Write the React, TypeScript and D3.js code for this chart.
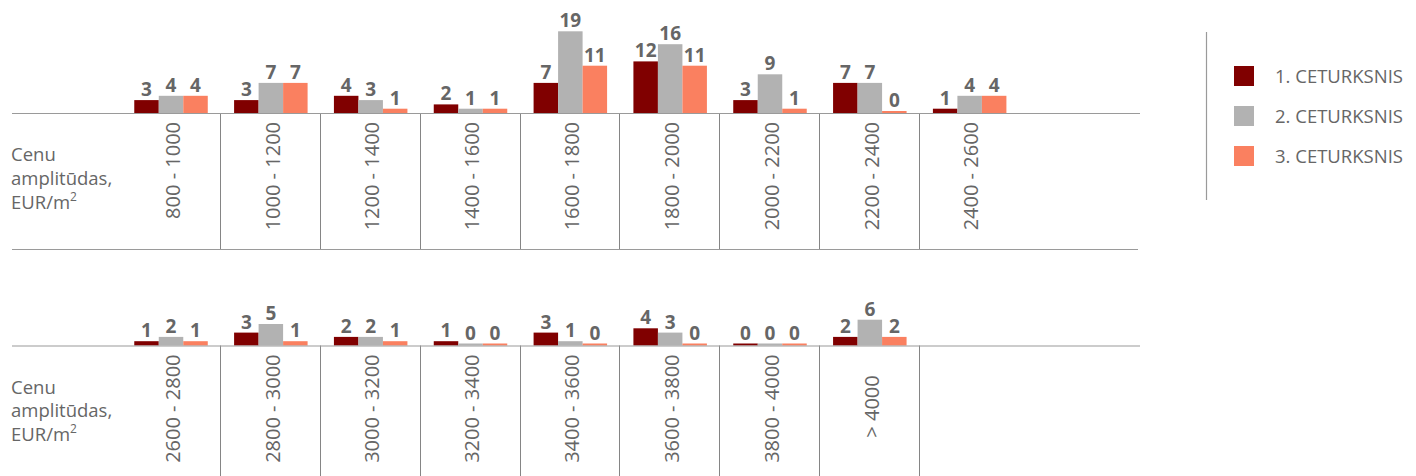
import React from "react";
import * as d3 from "d3";

// Price ranges (EUR/m²), split into two rows of the table
const rangesTop = [
  "800 - 1000", "1000 - 1200", "1200 - 1400", "1400 - 1600", "1600 - 1800",
  "1800 - 2000", "2000 - 2200", "2200 - 2400", "2400 - 2600",
];
const rangesBottom = [
  "2600 - 2800", "2800 - 3000", "3000 - 3200", "3200 - 3400", "3400 - 3600",
  "3600 - 3800", "3800 - 4000", "> 4000\u00a0\u00a0\u00a0\u00a0",
];

// Number of deals per quarter
const q1Top = [3, 3, 4, 2, 7, 12, 3, 7, 1];
const q2Top = [4, 7, 3, 1, 19, 16, 9, 7, 4];
const q3Top = [4, 7, 1, 1, 11, 11, 1, 0, 4];
const q1Bottom = [1, 3, 2, 1, 3, 4, 0, 2];
const q2Bottom = [2, 5, 2, 0, 1, 3, 0, 6];
const q3Bottom = [1, 1, 1, 0, 0, 0, 0, 2];

const seriesNames = ["1. CETURKSNIS", "2. CETURKSNIS", "3. CETURKSNIS"];
const seriesColors = ["#800000", "#b2b2b2", "#fa8060"];

const axisTitle = ["Cenu", "amplitūdas,", "EUR/m"];

const FONT = "'Open Sans', 'Noto Sans', sans-serif";
const TEXT = "#666666";
const LINE = "#9a9a9a";

const SLOTS = 9;
const x = d3
  .scaleBand<number>()
  .domain(d3.range(SLOTS))
  .range([120.3, 120.3 + 99.83 * SLOTS])
  .padding(0);
const inner = d3.scaleBand<number>().domain([0, 1, 2]).range([0, 73.5]).padding(0);
const h = d3.scaleLinear().domain([0, 20]).range([0, 86]);

type PanelProps = {
  baseline: number;
  tableBottom: number | null;
  sepBottom: number;
  ranges: string[];
  series: number[][];
};

function Panel({ baseline, tableBottom, sepBottom, ranges, series }: PanelProps) {
  const step = x.step();
  const seps = d3.range(SLOTS - 1).filter((i) => i < ranges.length);
  return (
    <g>
      {ranges.map((label, i) => {
        const cx = (x(i) as number) + step / 2;
        const gx = cx - inner.range()[1] / 2 + 0.8;
        return (
          <g key={label}>
            {series.map((vals, s) => {
              const v = vals[i];
              const bh = Math.max(2, h(v));
              const bx = gx + (inner(s) as number);
              const bw = inner.bandwidth();
              return (
                <g key={s}>
                  <rect x={bx} y={baseline - bh} width={bw} height={bh} fill={seriesColors[s]} />
                  <text
                    x={bx + bw / 2}
                    y={baseline - bh - 4}
                    textAnchor="middle"
                    fontFamily={FONT}
                    fontWeight={700}
                    fontSize={19}
                    fill={TEXT}
                  >
                    {v}
                  </text>
                </g>
              );
            })}
            <text
              transform={`translate(${cx + 9.5},${baseline + 9}) rotate(-90)`}
              textAnchor="end"
              fontFamily={FONT}
              fontSize={20}
              fill={TEXT}
            >
              {label}
            </text>
          </g>
        );
      })}
      {seps.map((i) => {
        const sx = Math.round((x(i) as number) + step) + 0.5;
        return (
          <line key={i} x1={sx} x2={sx} y1={baseline} y2={sepBottom} stroke="#858585" strokeWidth={1} />
        );
      })}
      <line x1={12} x2={1140} y1={baseline + 0.5} y2={baseline + 0.5} stroke={LINE} strokeWidth={1.2} />
      {tableBottom !== null && (
        <line x1={12} x2={1138} y1={tableBottom} y2={tableBottom} stroke={LINE} strokeWidth={1.2} />
      )}
      {axisTitle.map((t, k) => (
        <text key={k} x={11} y={baseline + 48 + k * 23.8} fontFamily={FONT} fontSize={18.5} fill={TEXT}>
          {t}
          {k === 2 && (
            <tspan fontSize={12} dy={-8}>
              2
            </tspan>
          )}
        </text>
      ))}
    </g>
  );
}

export default function App() {
  return (
    <svg
      width={1416}
      height={476}
      style={{ position: "absolute", left: 0, top: 0, display: "block", background: "#fff" }}
    >
      <Panel
        baseline={113}
        tableBottom={249.5}
        sepBottom={249}
        ranges={rangesTop}
        series={[q1Top, q2Top, q3Top]}
      />
      <Panel
        baseline={345.5}
        tableBottom={null}
        sepBottom={476}
        ranges={rangesBottom}
        series={[q1Bottom, q2Bottom, q3Bottom]}
      />
      {/* Legend */}
      <line x1={1206.5} x2={1206.5} y1={32} y2={200} stroke={LINE} strokeWidth={1.2} />
      {seriesNames.map((name, s) => (
        <g key={name} transform={`translate(1234,${66 + s * 40})`}>
          <rect width={20} height={20} fill={seriesColors[s]} />
          <text x={41} y={16.5} fontFamily={FONT} fontSize={18.5} fill={TEXT}>
            {name}
          </text>
        </g>
      ))}
    </svg>
  );
}
